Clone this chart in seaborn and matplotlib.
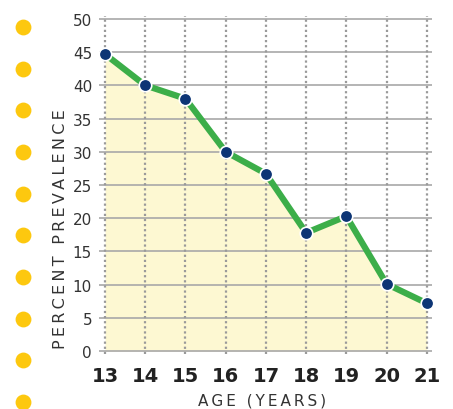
import matplotlib
matplotlib.use("Agg")
import matplotlib.pyplot as plt
import seaborn as sns
import numpy as np
import pandas as pd

ages = [13, 14, 15, 16, 17, 18, 19, 20, 21]
prevalence = [44.7, 40.0, 38.0, 30.0, 26.7, 17.8, 20.3, 10.1, 7.2]
yticks = [0, 5, 10, 15, 20, 25, 30, 35, 40, 45, 50]
xlabel = "AGE (YEARS)"
ylabel = "PERCENT PREVALENCE"

sns.set_theme(style="white")
plt.rcParams['font.family'] = ['DejaVu Sans']

df = pd.DataFrame({"age": ages, "prev": prevalence})

fig = plt.figure(figsize=(4.53, 4.10), dpi=100)
ax = fig.add_axes([99/453, 1 - 354.7/410, (432 - 99)/453, (354.7 - 17.3)/410])

ax.set_xlim(12.85, 21.13)
ax.set_ylim(-0.4, 50.4)

# grid
for y in yticks:
    ax.axhline(y, color="#a8a8a8", lw=1.2, zorder=1)
for x in ages:
    ax.axvline(x, color="#9a9a9a", lw=1.6, ls=(0, (1, 1.3)), zorder=1)

ax.fill_between(ages, prevalence, 0, color="#fdf8d2", zorder=0.5, lw=0)
sns.lineplot(data=df, x="age", y="prev", ax=ax, color="#3cae49", lw=4.5,
             marker="o", markersize=9, markerfacecolor="#0d3575",
             markeredgecolor="white", markeredgewidth=1.2, zorder=3)

for s in ax.spines.values():
    s.set_visible(False)

ax.set_xticks(ages)
ax.set_xticklabels([str(a) for a in ages], fontsize=14, fontweight="bold", color="#222222")
ax.set_yticks(yticks)
ax.set_yticklabels([str(v) for v in yticks], fontsize=11, color="#333333")
ax.tick_params(axis="x", length=0, pad=9)
ax.tick_params(axis="y", length=0, pad=5)

sp = "\u2009"
ax.set_xlabel(sp.join(list(xlabel)), fontsize=11, color="#333333")
ax.set_ylabel(sp.join(list(ylabel)), fontsize=11.5, color="#333333")
ax.xaxis.set_label_coords(0.491, -0.115)
ax.yaxis.set_label_coords(-0.093, 0.3726)

# decorative yellow dots on left
dot_ax = fig.add_axes([0, 0, 1, 1], zorder=-1)
dot_ax.set_xlim(0, 453)
dot_ax.set_ylim(410, 0)
dot_ax.axis("off")
dot_y = np.linspace(28, 403, 10)
dot_ax.scatter([23] * len(dot_y), dot_y, s=130, color="#fdc80f", lw=0)

fig.savefig("out.png", dpi=100)
